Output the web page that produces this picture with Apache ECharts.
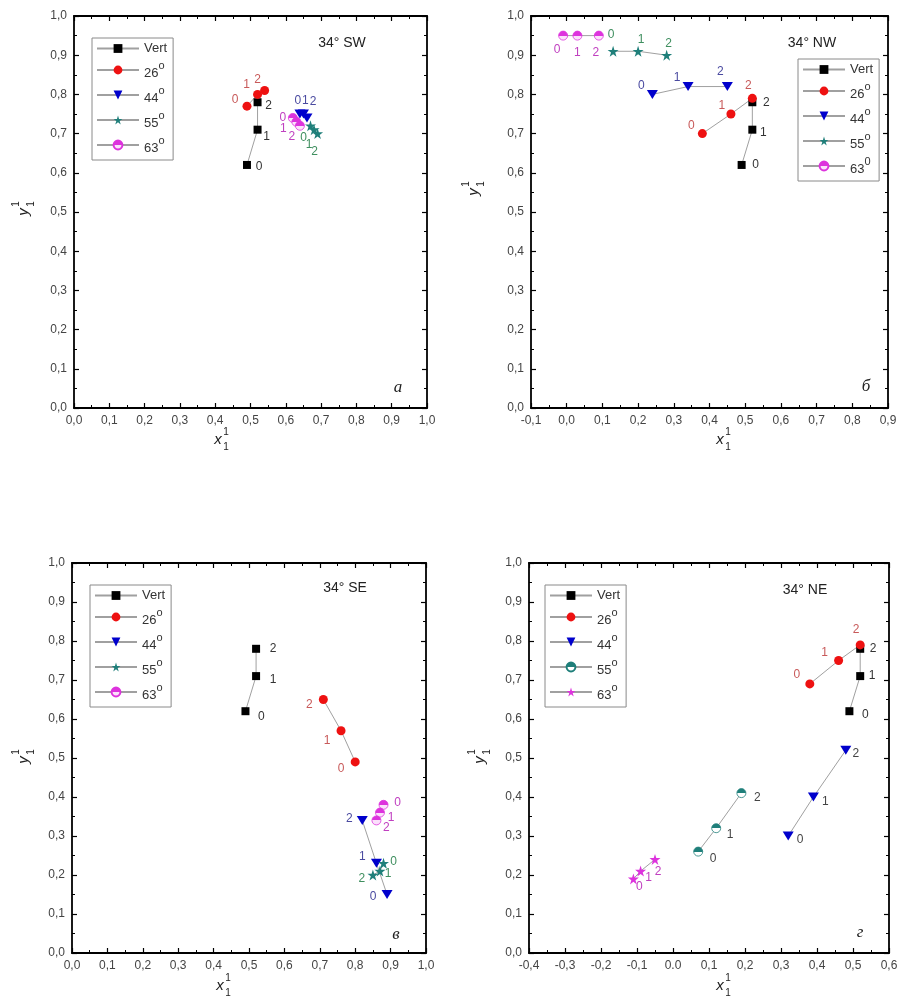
<!DOCTYPE html>
<html>
<head>
<meta charset="utf-8">
<script src="https://cdn.jsdelivr.net/npm/echarts@6/dist/echarts.min.js"></script>
<style>
  html, body { margin: 0; padding: 0; background: #fff; }
  #main { width: 912px; height: 1005px; }
</style>
</head>
<body>
<div id="main"></div>
<script>
// точки (x, y) для каждой панели, индекс точки = подпись 0, 1, 2
var seriesKeys = ['Vert', '26', '44', '55', '63'];

var sw_vert = [[0.49, 0.62], [0.52, 0.71], [0.52, 0.78]];
var sw_26 = [[0.49, 0.77], [0.52, 0.80], [0.54, 0.81]];
var sw_44 = [[0.64, 0.75], [0.65, 0.75], [0.66, 0.74]];
var sw_55 = [[0.67, 0.72], [0.68, 0.71], [0.69, 0.70]];
var sw_63 = [[0.62, 0.74], [0.63, 0.73], [0.64, 0.72]];

var nw_vert = [[0.49, 0.62], [0.52, 0.71], [0.52, 0.78]];
var nw_26 = [[0.38, 0.70], [0.46, 0.75], [0.52, 0.79]];
var nw_44 = [[0.24, 0.80], [0.34, 0.82], [0.45, 0.82]];
var nw_55 = [[0.13, 0.91], [0.20, 0.91], [0.28, 0.90]];
var nw_63 = [[-0.01, 0.95], [0.03, 0.95], [0.09, 0.95]];

var se_vert = [[0.49, 0.62], [0.52, 0.71], [0.52, 0.78]];
var se_26 = [[0.80, 0.49], [0.76, 0.57], [0.71, 0.65]];
var se_44 = [[0.89, 0.15], [0.86, 0.23], [0.82, 0.34]];
var se_55 = [[0.88, 0.23], [0.87, 0.21], [0.85, 0.20]];
var se_63 = [[0.88, 0.38], [0.87, 0.36], [0.86, 0.34]];

var ne_vert = [[0.49, 0.62], [0.52, 0.71], [0.52, 0.78]];
var ne_26 = [[0.38, 0.69], [0.46, 0.75], [0.52, 0.79]];
var ne_44 = [[0.32, 0.30], [0.39, 0.40], [0.48, 0.52]];
var ne_55 = [[0.07, 0.26], [0.12, 0.32], [0.19, 0.41]];
var ne_63 = [[-0.11, 0.19], [-0.09, 0.21], [-0.05, 0.24]];

// оси
var xRangeSW = [0, 1.0];
var xRangeNW = [-0.1, 0.9];
var xRangeSE = [0, 1.0];
var xRangeNE = [-0.4, 0.6];
var yRange = [0, 1.0];
var tickStep = 0.1;

var panelTitles = ['34° SW', '34° NW', '34° SE', '34° NE'];
var panelLetters = ['а', 'б', 'в', 'г'];

// ---------------------------------------------------------------
var STAR = 'path://M50,0L61.2,34.5L97.6,34.5L68.2,55.9L79.4,90.5L50,69.1L20.6,90.5L31.8,55.9L2.4,34.5L38.8,34.5Z';
var TRI = 'path://M0,0L10,0L5,9Z';
var FONT = 'Liberation Sans, Arial, sans-serif';

function half(c1, c2) {
    return {
        type: 'linear', x: 0, y: 0, x2: 0, y2: 1,
        colorStops: [
            {offset: 0, color: c1}, {offset: 0.5, color: c1},
            {offset: 0.5, color: c2}, {offset: 1, color: c2}
        ]
    };
}

var mk = {
    square: {symbol: 'rect', size: 8, color: '#000'},
    circle: {symbol: 'circle', size: 9, color: '#ee1111'},
    tri: {symbol: TRI, size: [11, 9], color: '#0000cc'},
    starTeal: {symbol: STAR, size: 11, color: '#1f7f7a'},
    halfPink: {symbol: 'circle', size: 9, color: half('#dd33dd', '#fbe0fb'), border: '#dd33dd'},
    halfTeal: {symbol: 'circle', size: 9, color: half('#1f7f7a', '#ffffff'), border: '#1f7f7a'},
    starPink: {symbol: STAR, size: 11, color: '#dd33dd'}
};

var labelColors = {Vert: '#333', '26': '#c85a5a', '44': '#4a4aa0', '55': '#3f8f5f', '63': '#c040c0'};

var labelOffsets = {
    sw: {Vert: [[12, 2], [9, 7], [11, 3]], '26': [[-12, -6], [-11, -10], [-7, -11]], '44': [[-2, -13], [2, -13], [6, -16]], '55': [[-7, 12], [-5, 15], [-3, 18]], '63': [[-10, 0], [-13, 7], [-8, 11]]},
    nw: {Vert: [[14, 0], [11, 3], [14, 0]], '26': [[-11, -8], [-9, -8], [-4, -13]], '44': [[-11, -9], [-11, -9], [-7, -15]], '55': [[-2, -17], [3, -12], [2, -12]], '63': [[-6, 14], [0, 17], [-3, 17]]},
    se: {Vert: [[16, 5], [17, 4], [17, 0]], '26': [[-14, 7], [-14, 10], [-14, 5]], '44': [[-14, 2], [-14, -7], [-13, -2]], '55': [[10, -2], [8, 3], [-11, 4]], '63': [[14, -2], [11, 5], [10, 7]]},
    ne: {Vert: [[16, 3], [12, 0], [13, 0]], '26': [[-13, -9], [-14, -8], [-4, -15]], '44': [[12, 4], [12, 5], [10, 3]], '55': [[15, 7], [14, 6], [16, 5]], '63': [[6, 8], [8, 7], [3, 12]]}
};

var panels = [
    {key: 'sw', grid: {left: 74, top: 16, width: 353, height: 392}, xr: xRangeSW,
        data: [sw_vert, sw_26, sw_44, sw_55, sw_63], marks: ['square', 'circle', 'tri', 'starTeal', 'halfPink'],
        legend: {left: 92, top: 38}, title: [342, 43], letter: [398, 388], xt: [218, 440], yt: [24, 212], sup63: 'o'},
    {key: 'nw', grid: {left: 531, top: 16, width: 357, height: 392}, xr: xRangeNW,
        data: [nw_vert, nw_26, nw_44, nw_55, nw_63], marks: ['square', 'circle', 'tri', 'starTeal', 'halfPink'],
        legend: {left: 798, top: 59}, title: [812, 43], letter: [866, 387], xt: [720, 440], yt: [474, 192], sup63: '0'},
    {key: 'se', grid: {left: 72, top: 563, width: 354, height: 390}, xr: xRangeSE,
        data: [se_vert, se_26, se_44, se_55, se_63], marks: ['square', 'circle', 'tri', 'starTeal', 'halfPink'],
        legend: {left: 90, top: 585}, title: [345, 588], letter: [396, 935], xt: [220, 986], yt: [24, 760], sup63: 'o'},
    {key: 'ne', grid: {left: 529, top: 563, width: 360, height: 390}, xr: xRangeNE,
        data: [ne_vert, ne_26, ne_44, ne_55, ne_63], marks: ['square', 'circle', 'tri', 'halfTeal', 'starPink'],
        legend: {left: 545, top: 585}, title: [805, 590], letter: [860, 933], xt: [720, 986], yt: [480, 760], sup63: 'o',
        labelColors: {'44': '#444', '55': '#444'}}
];

function fmt(dotZero) {
    return function (v) {
        if (Math.abs(v) < 1e-9) return dotZero ? '0.0' : '0,0';
        return v.toFixed(1).replace('.', ',');
    };
}

function axis(gi, r, pos, labels, dotZero) {
    return {
        type: 'value', gridIndex: gi, min: r[0], max: r[1], interval: tickStep, position: pos,
        axisLine: {show: true, onZero: false, lineStyle: {color: '#000', width: 1.8}},
        axisTick: {show: true, inside: true, length: 5, lineStyle: {color: '#000', width: 1.2}},
        minorTick: {show: true, splitNumber: 2, length: 3, lineStyle: {color: '#000', width: 1}},
        axisLabel: {show: labels, formatter: fmt(dotZero), color: '#444', fontSize: 12, fontFamily: FONT, margin: 7},
        splitLine: {show: false}
    };
}

var grids = [], xAxes = [], yAxes = [], series = [], legends = [], graphics = [];

panels.forEach(function (p, i) {
    grids.push(p.grid);
    xAxes.push(axis(i, p.xr, 'bottom', true, p.key === 'ne'), axis(i, p.xr, 'top', false));
    yAxes.push(axis(i, yRange, 'left', true), axis(i, yRange, 'right', false));

    var names = [];
    seriesKeys.forEach(function (k, j) {
        var m = mk[p.marks[j]];
        var col = (p.labelColors && p.labelColors[k]) || labelColors[k];
        var offs = labelOffsets[p.key][k];
        var name = p.key + '|' + k;
        names.push(name);
        series.push({
            name: name, type: 'line', xAxisIndex: 2 * i, yAxisIndex: 2 * i,
            symbol: m.symbol, symbolSize: m.size, showAllSymbol: true,
            itemStyle: {color: m.color, borderColor: m.border || m.color, borderWidth: m.border ? 0.8 : 0, opacity: 1},
            lineStyle: {color: '#a0a0a0', width: 1},
            label: {
                show: true, position: 'inside', color: col, fontSize: 12, fontFamily: FONT,
                formatter: function (q) { return String(q.dataIndex); }
            },
            data: p.data[j].map(function (pt, n) {
                return {value: pt, label: {offset: offs[n]}};
            }),
            z: 3
        });
    });

    legends.push({
        data: names, orient: 'vertical', left: p.legend.left, top: p.legend.top,
        borderColor: '#8a8a8a', borderWidth: 1, padding: [4, 6, 5, 4],
        itemWidth: 42, itemHeight: 11, itemGap: 5, selectedMode: false,
        formatter: function (name) {
            var k = name.split('|')[1];
            if (k === 'Vert') return '{v|Vert}';
            return '{n|' + k + '}{s|' + (k === '63' ? p.sup63 : 'o') + '}';
        },
        textStyle: {
            color: '#333', fontFamily: FONT, fontSize: 13,
            rich: {
                v: {fontSize: 13, fontFamily: FONT, color: '#333', lineHeight: 20, verticalAlign: 'middle'},
                n: {fontSize: 13, fontFamily: FONT, color: '#333', lineHeight: 20, verticalAlign: 'bottom'},
                s: {fontSize: 11, fontFamily: FONT, color: '#333', lineHeight: 10, verticalAlign: 'top'}
            }
        }
    });

    graphics.push({
        type: 'text', x: p.title[0], y: p.title[1],
        style: {text: panelTitles[i], font: '14px ' + FONT, fill: '#222', align: 'center', verticalAlign: 'middle'}
    });
    graphics.push({
        type: 'text', x: p.letter[0], y: p.letter[1],
        style: {text: panelLetters[i], font: 'italic 17px Liberation Serif, Times New Roman, serif', fill: '#222', align: 'center', verticalAlign: 'middle'}
    });
    // подписи осей x¹₁ и y¹₁
    function axisTitle(letter, pos, rot) {
        return {
            type: 'group', x: pos[0], y: pos[1], rotation: rot,
            children: [
                {type: 'text', x: 0, y: 0, style: {text: letter, font: 'italic 15px ' + FONT, fill: '#222', align: 'center', verticalAlign: 'middle'}},
                {type: 'text', x: 8, y: -8, style: {text: '1', font: '10px ' + FONT, fill: '#222', align: 'center', verticalAlign: 'middle'}},
                {type: 'text', x: 8, y: 7, style: {text: '1', font: '10px ' + FONT, fill: '#222', align: 'center', verticalAlign: 'middle'}}
            ]
        };
    }
    graphics.push(axisTitle('x', p.xt, 0));
    graphics.push(axisTitle('y', p.yt, Math.PI / 2));
});

var myChart = echarts.init(document.getElementById('main'));
myChart.setOption({
    animation: false,
    backgroundColor: '#fff',
    grid: grids,
    xAxis: xAxes,
    yAxis: yAxes,
    legend: legends,
    series: series,
    graphic: graphics
});
</script>
</body>
</html>
